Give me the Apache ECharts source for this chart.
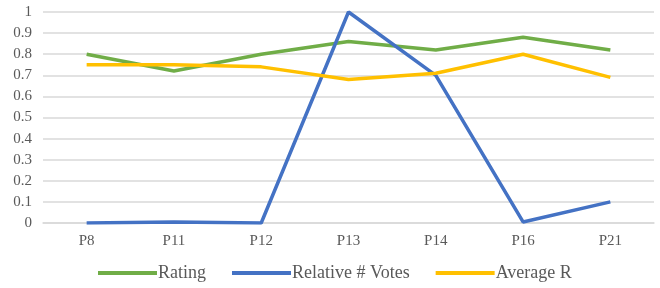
<!DOCTYPE html>
<html>
<head>
<meta charset="utf-8">
<script src="https://cdn.jsdelivr.net/npm/echarts@6/dist/echarts.min.js"></script>
<style>
    html, body { margin: 0; padding: 0; background: #fff; }
    #chart { width: 660px; height: 288px; }
</style>
</head>
<body>
<div id="chart"></div>
<script>
// 数据
var categories = ['P8', 'P11', 'P12', 'P13', 'P14', 'P16', 'P21'];
var rating = [0.80, 0.72, 0.80, 0.86, 0.82, 0.88, 0.82];
var relativeVotes = [0, 0.005, 0, 1.0, 0.70, 0.005, 0.10];
var averageR = [0.75, 0.75, 0.74, 0.68, 0.71, 0.80, 0.69];

function chartRender() {
    var myChart = echarts.init(document.getElementById('chart'));
    var textColor = '#595959';
    var font = 'Liberation Serif';

    function lineSeries(name, data, color) {
        return {
            name: name,
            type: 'line',
            data: data,
            symbol: 'none',
            lineStyle: { width: 3.5, color: color },
            itemStyle: { color: color },
            animation: false
        };
    }

    var option = {
        grid: {
            left: 43,
            right: 6,
            top: 12,
            bottom: 65
        },
        // 图例
        legend: {
            bottom: 1,
            left: 93,
            icon: 'rect',
            itemWidth: 59,
            itemHeight: 4,
            itemGap: 26,
            textStyle: { color: textColor, fontFamily: font, fontSize: 18, padding: [0, 0, 0, -4] },
            data: ['Rating', 'Relative # Votes', 'Average R']
        },
        xAxis: {
            type: 'category',
            data: categories,
            boundaryGap: true,
            axisTick: { show: false },
            axisLine: { lineStyle: { color: '#d9d9d9', width: 1.5 } },
            axisLabel: { color: textColor, fontFamily: font, fontSize: 15, margin: 11 }
        },
        yAxis: {
            type: 'value',
            min: 0,
            max: 1,
            interval: 0.1,
            axisLine: { show: false },
            axisTick: { show: false },
            splitLine: { lineStyle: { color: '#d9d9d9', width: 1.5 } },
            axisLabel: { color: textColor, fontFamily: font, fontSize: 15, margin: 11 }
        },
        series: [
            lineSeries('Rating', rating, '#70AD47'),
            lineSeries('Relative # Votes', relativeVotes, '#4472C4'),
            lineSeries('Average R', averageR, '#FFC000')
        ]
    };
    myChart.setOption(option);
}
chartRender();
</script>
</body>
</html>
